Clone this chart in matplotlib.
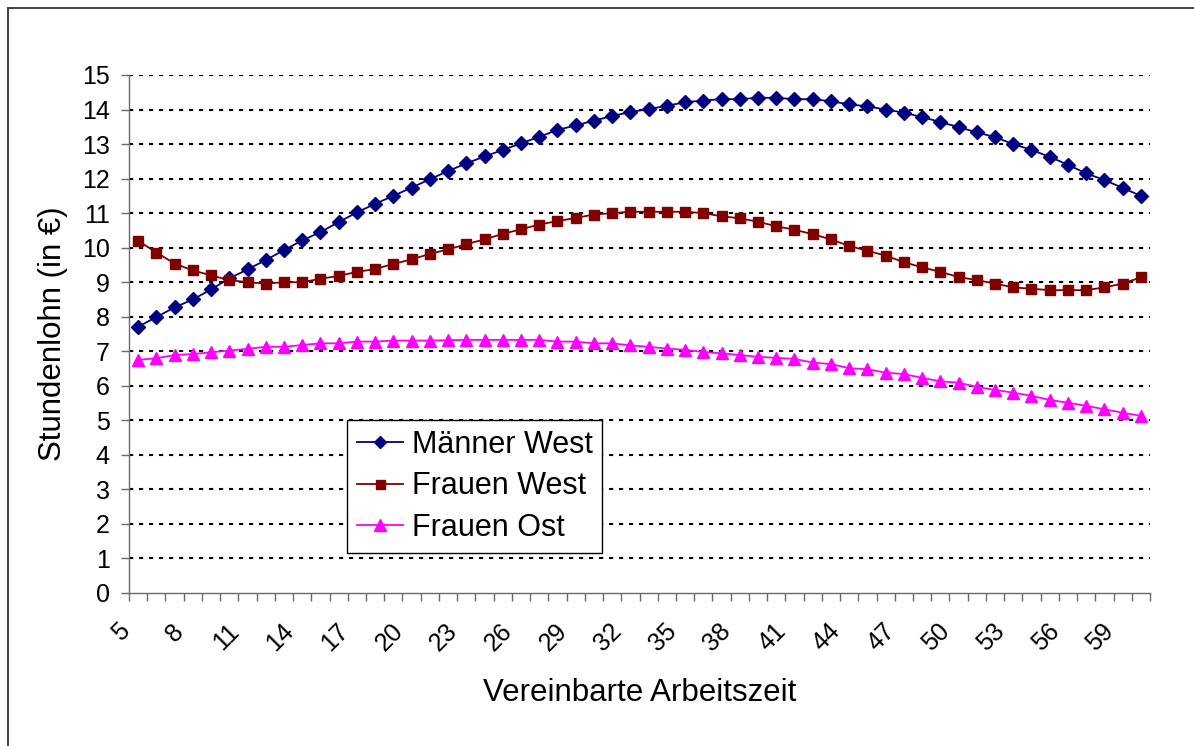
import numpy as np
import matplotlib
matplotlib.use("Agg")
import matplotlib.pyplot as plt
from matplotlib.lines import Line2D
from matplotlib.transforms import ScaledTranslation

plt.rcParams['font.family'] = ['Liberation Sans', 'DejaVu Sans']

stunden = list(range(5, 61))

maenner_west = [7.71, 7.99, 8.27, 8.50, 8.79, 9.11, 9.37, 9.64, 9.93, 10.21,
                10.45, 10.74, 11.02, 11.27, 11.50, 11.74, 11.98, 12.22, 12.44, 12.64,
                12.83, 13.02, 13.21, 13.41, 13.54, 13.68, 13.81, 13.93, 14.01, 14.11,
                14.21, 14.26, 14.30, 14.30, 14.34, 14.34, 14.30, 14.30, 14.24, 14.15,
                14.09, 14.00, 13.91, 13.78, 13.64, 13.49, 13.34, 13.20, 13.00, 12.83,
                12.63, 12.40, 12.15, 11.96, 11.73, 11.50]

frauen_west = [10.20, 9.86, 9.54, 9.34, 9.20, 9.06, 9.00, 8.96, 9.00, 9.00,
               9.10, 9.18, 9.30, 9.38, 9.53, 9.66, 9.82, 9.95, 10.10, 10.24,
               10.40, 10.53, 10.67, 10.77, 10.86, 10.96, 11.00, 11.04, 11.04, 11.04,
               11.04, 11.00, 10.91, 10.85, 10.75, 10.62, 10.52, 10.39, 10.24, 10.05,
               9.91, 9.77, 9.58, 9.43, 9.30, 9.15, 9.06, 8.96, 8.85, 8.81,
               8.77, 8.77, 8.77, 8.85, 8.96, 9.14]

frauen_ost = [6.75, 6.80, 6.89, 6.92, 6.97, 7.02, 7.07, 7.13, 7.13, 7.18,
              7.23, 7.23, 7.28, 7.28, 7.31, 7.31, 7.31, 7.32, 7.33, 7.33,
              7.33, 7.33, 7.33, 7.28, 7.28, 7.23, 7.23, 7.17, 7.13, 7.08,
              7.04, 6.98, 6.94, 6.89, 6.84, 6.81, 6.78, 6.67, 6.63, 6.51,
              6.48, 6.38, 6.34, 6.23, 6.13, 6.09, 5.97, 5.88, 5.80, 5.71,
              5.59, 5.51, 5.42, 5.32, 5.22, 5.13]

W, H = 1194, 746
fig = plt.figure(figsize=(W / 100, H / 100), dpi=100)
ax = fig.add_axes([129 / W, 1 - 593 / H, (1150 - 129) / W, (593 - 75) / H])

x = np.arange(len(stunden))
ax.plot(x, maenner_west, color='#000080', lw=1.3, marker='D', ms=6.8,
        label='Männer West', zorder=3)
ax.plot(x, frauen_west, color='#800000', lw=1.3, marker='s', ms=7.2,
        label='Frauen West', zorder=3)
ax.plot(x, frauen_ost, color='#FF00FF', lw=1.3, marker='^', ms=8.8,
        label='Frauen Ost', zorder=3)

ax.set_xlim(-0.5, len(stunden) - 0.5)
ax.set_ylim(0, 15)

axis_grey = '#6a6a6a'
for s in ['top', 'right']:
    ax.spines[s].set_visible(False)
for s in ['left', 'bottom']:
    ax.spines[s].set_color(axis_grey)
    ax.spines[s].set_linewidth(1.0)

# y axis
ax.set_yticks(range(0, 16))
ax.set_yticklabels([str(v) for v in range(0, 16)], fontsize=18)
ax.tick_params(axis='y', direction='out', length=5.8, width=1.0, color=axis_grey, pad=8)
ax.yaxis.grid(True, color='black', lw=1.5, linestyle=(0, (2, 2.8)))
ax.set_axisbelow(True)
ax.yaxis.get_gridlines()[0].set_visible(False)

# x axis: tick marks between categories, labels every third category
ax.set_xticks(np.arange(-0.5, len(stunden), 1), minor=True)
ax.set_xticks(x[::3])
ax.set_xticklabels([str(v) for v in stunden[::3]], fontsize=18,
                   rotation=45, rotation_mode='anchor', ha='right', va='center')
ax.tick_params(axis='x', which='minor', direction='out', length=5.8, width=1.0,
               color=axis_grey)
ax.tick_params(axis='x', which='major', length=0, pad=25)
offset = ScaledTranslation(-12.5 / 100, 0, fig.dpi_scale_trans)
for lab in ax.get_xticklabels():
    lab.set_transform(lab.get_transform() + offset)

ax.set_xlabel('Vereinbarte Arbeitszeit', fontsize=22.5, labelpad=16)
ax.set_ylabel('Stundenlohn (in €)', fontsize=22.5, labelpad=10)

leg = ax.legend(loc='upper left', bbox_to_anchor=(347 / W, 1 - 420 / H),
                bbox_transform=fig.transFigure, borderaxespad=0, fontsize=22,
                frameon=True, fancybox=False, framealpha=1, edgecolor='black',
                handlelength=1.5, handletextpad=0.3, labelspacing=0.38,
                borderpad=0.32, markerscale=0.9)
leg.get_frame().set_linewidth(1.0)

# outer chart border
fig.add_artist(Line2D([8 / W, 8 / W], [0, 1 - 8 / H], color='#333333', lw=1.3,
                      transform=fig.transFigure))
fig.add_artist(Line2D([8 / W, 1], [1 - 8 / H, 1 - 8 / H], color='#333333', lw=1.3,
                      transform=fig.transFigure))

fig.savefig('out.png', dpi=100)
